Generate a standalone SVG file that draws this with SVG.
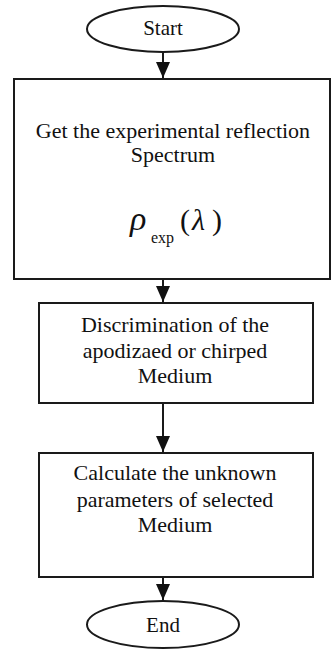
<svg xmlns="http://www.w3.org/2000/svg" width="331" height="650" viewBox="0 0 331 650">
<defs>
<style>
.shape{fill:#fff;stroke:#1a1a1a;stroke-width:2}
.txt{font-family:"Liberation Serif","Times New Roman",serif;font-size:22px;fill:#111;text-anchor:middle}
.math{font-family:"Liberation Serif","Times New Roman",serif;fill:#111}
.conn{stroke:#1a1a1a;stroke-width:2;fill:none}
</style>
<marker id="tri" markerUnits="userSpaceOnUse" markerWidth="16" markerHeight="16" refX="16" refY="8" orient="auto" viewBox="0 0 16 16">
<path d="M0,1 L16,8 L0,15 Z" fill="#111"/>
</marker>
</defs>
<rect width="331" height="650" fill="#fff"/>
<g id="connectors">
<line class="conn" x1="163" y1="52" x2="163" y2="78" marker-end="url(#tri)"/>
<line class="conn" x1="163" y1="280" x2="163" y2="302" marker-end="url(#tri)"/>
<line class="conn" x1="163" y1="404" x2="163" y2="452" marker-end="url(#tri)"/>
<line class="conn" x1="163" y1="578" x2="163" y2="600" marker-end="url(#tri)"/>
</g>
<g id="start">
<ellipse class="shape" cx="163" cy="29" rx="76" ry="23"/>
<text class="txt" x="163" y="35" style="font-size:21px">Start</text>
</g>
<g id="get-spectrum">
<rect class="shape" x="14" y="79" width="316" height="200"/>
<text class="txt" x="173" y="138">Get the experimental reflection</text>
<text class="txt" x="173" y="162">Spectrum</text>
<text class="math" x="130" y="230" style="font-size:34px;font-style:italic">ρ</text>
<text class="math" x="151" y="243" style="font-size:16px">exp</text>
<text class="math" x="180" y="230" style="font-size:30px">(</text>
<text class="math" x="192" y="230" style="font-size:30px;font-style:italic">λ</text>
<text class="math" x="212" y="230" style="font-size:30px">)</text>
</g>
<g id="discrimination">
<rect class="shape" x="39" y="303" width="274" height="100"/>
<text class="txt" x="175" y="332">Discrimination of the</text>
<text class="txt" x="175" y="358">apodizaed or chirped</text>
<text class="txt" x="175" y="383">Medium</text>
</g>
<g id="calculate">
<rect class="shape" x="39" y="453" width="274" height="124"/>
<text class="txt" x="175" y="480">Calculate the unknown</text>
<text class="txt" x="175" y="507">parameters of selected</text>
<text class="txt" x="175" y="532">Medium</text>
</g>
<g id="end">
<ellipse class="shape" cx="163" cy="624.5" rx="76" ry="23.5"/>
<text class="txt" x="163" y="632" style="font-size:21px">End</text>
</g>
</svg>
